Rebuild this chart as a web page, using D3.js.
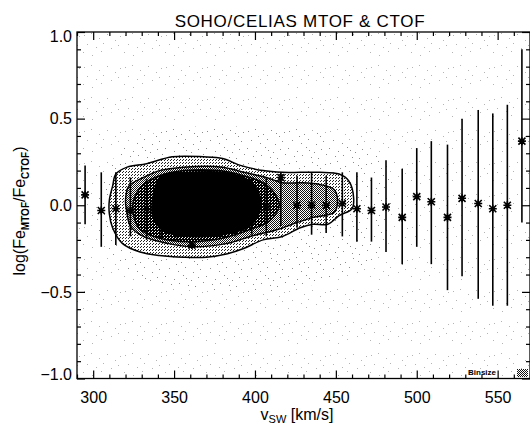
<!DOCTYPE html>
<html>
<head>
<meta charset="utf-8">
<script src="https://cdn.jsdelivr.net/npm/d3@7"></script>
<style>
  body { margin: 0; background: #fff; }
  svg text { font-family: "Liberation Sans", Arial, Helvetica, sans-serif; fill: #000; }
</style>
</head>
<body>
<div id="chart"></div>
<script>
// binned means with error bars (solar wind speed bins)
const vsw = [295, 305, 314, 323, 333, 342, 351, 361, 370, 379, 388, 398, 407, 416, 426,
             435, 444, 454, 463, 472, 481, 491, 500, 509, 519, 528, 538, 547, 556, 565];
const ratioMean = [0.06, -0.03, -0.02, -0.03, -0.02, 0.00, 0.00, -0.23, 0.00, 0.00, 0.00, 0.00, -0.01, 0.16, 0.00,
                   0.00, 0.00, 0.01, -0.02, -0.03, -0.01, -0.07, 0.05, 0.02, -0.07, 0.04, 0.01, -0.02, 0.00, 0.37];
const ratioLo = [-0.11, -0.24, -0.23, -0.18, -0.20, -0.19, -0.19, -0.25, -0.18, -0.18, -0.18, -0.17, -0.18, -0.12, -0.13,
                 -0.17, -0.16, -0.18, -0.21, -0.21, -0.27, -0.34, -0.24, -0.34, -0.49, -0.41, -0.54, -0.58, -0.58, -0.10];
const ratioHi = [0.23, 0.19, 0.19, 0.16, 0.15, 0.17, 0.18, -0.21, 0.18, 0.18, 0.17, 0.16, 0.16, 0.19, 0.17,
                 0.19, 0.17, 0.19, 0.19, 0.16, 0.26, 0.21, 0.33, 0.37, 0.35, 0.50, 0.55, 0.53, 0.58, 0.90];

// density contour outlines [vsw, log ratio], outer to inner
const haloSparse = [[305, 0.10], [318, 0.33], [350, 0.44], [400, 0.45], [450, 0.40], [480, 0.25], [485, 0.00],
                    [475, -0.30], [440, -0.45], [390, -0.50], [345, -0.46], [315, -0.35], [303, -0.12]];
const contourA = [[310, 0.03], [312, 0.11], [314, 0.18], [321, 0.22], [333, 0.24], [349, 0.28], [368, 0.28],
                  [380, 0.27], [391, 0.23], [405, 0.20], [417, 0.19], [428, 0.19], [440, 0.19], [452, 0.18],
                  [458, 0.14], [461, 0.04], [460, -0.02], [452, -0.06], [445, -0.11], [436, -0.11], [428, -0.13],
                  [417, -0.18], [405, -0.20], [393, -0.25], [383, -0.28], [370, -0.30], [356, -0.30],
                  [341, -0.29], [329, -0.27], [318, -0.22], [312, -0.13], [310, -0.05]];
const contourB = [[320, 0.03], [322, 0.11], [331, 0.16], [341, 0.20], [356, 0.22], [380, 0.22], [393, 0.19],
                  [407, 0.16], [417, 0.13], [428, 0.13], [440, 0.12], [449, 0.09], [451, 0.03], [449, -0.04],
                  [436, -0.07], [426, -0.10], [414, -0.14], [397, -0.18], [383, -0.22], [362, -0.24],
                  [346, -0.22], [331, -0.18], [323, -0.12], [321, -0.05]];
const contourC = [[325, 0.03], [331, 0.12], [341, 0.17], [356, 0.20], [378, 0.20], [393, 0.17], [405, 0.13],
                  [412, 0.07], [415, 0.00], [409, -0.09], [397, -0.14], [380, -0.19], [360, -0.21],
                  [341, -0.19], [329, -0.14], [325, -0.06]];
const contourD = [[338, 0.09], [342, 0.17], [360, 0.19], [380, 0.19], [395, 0.15], [402, 0.08], [403, -0.03],
                  [397, -0.12], [380, -0.17], [360, -0.18], [344, -0.15], [337, -0.07]];

const xTicks = [300, 350, 400, 450, 500, 550];
const yTicks = [-1.0, -0.5, 0.0, 0.5, 1.0];

const width = 530, height = 426;
const mLeft = 77, mRight = 530, mTop = 32, mBottom = 378.5;

const svg = d3.select("#chart").append("svg")
    .attr("width", width)
    .attr("height", height);

const x = d3.scaleLinear().domain([290, 570]).range([mLeft, mRight]);
const y = d3.scaleLinear().domain([-1, 1]).range([mBottom, mTop]);

// halftone patterns
const defs = svg.append("defs");
function pattern(id, w, h, dots, color) {
    const p = defs.append("pattern").attr("id", id)
        .attr("patternUnits", "userSpaceOnUse")
        .attr("width", w).attr("height", h);
    p.append("rect").attr("width", w).attr("height", h).attr("fill", "#fff");
    dots.forEach(d => p.append("rect").attr("x", d[0]).attr("y", d[1])
        .attr("width", 1).attr("height", 1).attr("fill", color)
        .attr("shape-rendering", "crispEdges"));
    return p;
}
// scattered speckle tiles (irregular fixed pixel positions)
const speckDots = [[2, 3], [9, 1], [17, 6], [25, 2], [33, 8], [38, 4], [5, 12], [14, 15], [21, 11], [29, 16],
                   [36, 13], [1, 20], [10, 23], [19, 19], [27, 24], [34, 21], [7, 28], [15, 27], [24, 29], [31, 30],
                   [39, 26], [12, 8], [30, 5], [22, 22]];
pattern("speck", 41, 32, speckDots.slice(0, 14), "#b4b4b4");
pattern("speck2", 41, 32, speckDots, "#8c8c8c");
pattern("lvl1", 3, 3, [[0, 0], [2, 1]], "#222");
pattern("lvl2", 2, 2, [[0, 0], [1, 1]], "#111");
pattern("lvl3", 3, 3, [[0, 0], [1, 0], [0, 1], [2, 1], [1, 2], [2, 2], [0, 2]], "#000");

svg.append("rect")
    .attr("x", mLeft).attr("y", mTop)
    .attr("width", mRight - mLeft).attr("height", mBottom - mTop)
    .attr("fill", "url(#speck)");

// contours
const area = d3.line()
    .x(d => x(d[0]))
    .y(d => y(d[1]))
    .curve(d3.curveCatmullRomClosed.alpha(0.5));

svg.append("path")
    .attr("d", area(haloSparse))
    .attr("fill", "url(#speck2)");

const levels = [
    {pts: contourA, fill: "url(#lvl1)"},
    {pts: contourB, fill: "url(#lvl2)"},
    {pts: contourC, fill: "url(#lvl3)"},
    {pts: contourD, fill: "#000"}
];
svg.append("g").selectAll("path")
    .data(levels)
    .enter().append("path")
    .attr("d", d => area(d.pts))
    .attr("fill", d => d.fill)
    .attr("stroke", "#000")
    .attr("stroke-width", 1.5);

// error bars + asterisks
const bins = vsw.map((v, i) => ({v: v, m: ratioMean[i], lo: ratioLo[i], hi: ratioHi[i]}));
const g = svg.append("g");
g.selectAll(".bar")
    .data(bins)
    .enter().append("line")
    .attr("class", "bar")
    .attr("x1", d => x(d.v)).attr("x2", d => x(d.v))
    .attr("y1", d => y(d.lo)).attr("y2", d => y(d.hi))
    .attr("stroke", "#000")
    .attr("stroke-width", 1.6);
g.selectAll(".star")
    .data(bins)
    .enter().append("path")
    .attr("class", "star")
    .attr("transform", d => `translate(${x(d.v)},${y(d.m)})`)
    .attr("d", "M-3.5,-3.5L3.5,3.5M-3.5,3.5L3.5,-3.5M-4,0L4,0M0,-4L0,4")
    .attr("stroke", "#000")
    .attr("stroke-width", 1.6)
    .attr("fill", "none");

// binsize marker
svg.append("text")
    .attr("x", 468).attr("y", 375)
    .attr("font-size", 8).attr("font-weight", "bold")
    .text("Binsize");
svg.append("rect")
    .attr("x", 517).attr("y", 369).attr("width", 11).attr("height", 8)
    .attr("fill", "url(#lvl2)");

// axes, ticks pointing inward
const fmt = d3.format(".1f");
function styleAxis(sel) {
    sel.select(".domain").remove();
    sel.selectAll(".tick line").attr("stroke", "#000").attr("stroke-width", 1.2);
    sel.selectAll(".tick text").attr("font-size", 16).attr("font-family", null);
}
const xMinor = d3.range(290, 571, 10).filter(v => xTicks.indexOf(v) < 0);
const yMinor = d3.range(-10, 11).map(v => v / 10).filter(v => yTicks.indexOf(v) < 0);

svg.append("g").attr("transform", `translate(0,${mBottom})`)
    .call(d3.axisBottom(x).tickValues(xTicks).tickSize(-8).tickPadding(13).tickFormat(d3.format("d")))
    .call(styleAxis);
svg.append("g").attr("transform", `translate(0,${mBottom})`)
    .call(d3.axisBottom(x).tickValues(xMinor).tickSize(-4).tickFormat(""))
    .call(styleAxis);
svg.append("g").attr("transform", `translate(0,${mTop})`)
    .call(d3.axisTop(x).tickValues(xTicks).tickSize(-8).tickFormat(""))
    .call(styleAxis);
svg.append("g").attr("transform", `translate(0,${mTop})`)
    .call(d3.axisTop(x).tickValues(xMinor).tickSize(-4).tickFormat(""))
    .call(styleAxis);

const yAx = svg.append("g").attr("transform", `translate(${mLeft},0)`)
    .call(d3.axisLeft(y).tickValues(yTicks).tickSize(-8).tickPadding(5).tickFormat(fmt))
    .call(styleAxis);
yAx.selectAll(".tick text")
    .attr("dy", d => d === 1 ? "0.62em" : d === -1 ? "0.05em" : "0.32em");
svg.append("g").attr("transform", `translate(${mLeft},0)`)
    .call(d3.axisLeft(y).tickValues(yMinor).tickSize(-4).tickFormat(""))
    .call(styleAxis);
svg.append("g").attr("transform", `translate(${mRight},0)`)
    .call(d3.axisRight(y).tickValues(yTicks).tickSize(-8).tickFormat(""))
    .call(styleAxis);
svg.append("g").attr("transform", `translate(${mRight},0)`)
    .call(d3.axisRight(y).tickValues(yMinor).tickSize(-4).tickFormat(""))
    .call(styleAxis);

svg.append("rect")
    .attr("x", mLeft).attr("y", mTop)
    .attr("width", mRight - mLeft).attr("height", mBottom - mTop)
    .attr("fill", "none")
    .attr("stroke", "#000")
    .attr("stroke-width", 1.3);

// title and axis labels
svg.append("text")
    .attr("x", 300).attr("y", 26.5)
    .attr("text-anchor", "middle")
    .attr("font-size", 17)
    .attr("letter-spacing", 0.7)
    .text("SOHO/CELIAS MTOF & CTOF");

const xl = svg.append("text")
    .attr("x", 297).attr("y", 420)
    .attr("text-anchor", "middle")
    .attr("font-size", 16);
xl.append("tspan").text("v");
xl.append("tspan").attr("font-size", 11).attr("dy", 3).text("SW");
xl.append("tspan").attr("dy", -3).text(" [km/s]");

const yl = svg.append("text")
    .attr("transform", "translate(25,211) rotate(-90)")
    .attr("text-anchor", "middle")
    .attr("font-size", 16);
yl.append("tspan").text("log(Fe");
yl.append("tspan").attr("font-size", 10).attr("font-weight", "bold").attr("dy", 4).text("MTOF");
yl.append("tspan").attr("dy", -4).text("/Fe");
yl.append("tspan").attr("font-size", 10).attr("font-weight", "bold").attr("dy", 4).text("CTOF");
yl.append("tspan").attr("dy", -4).text(")");
</script>
</body>
</html>
